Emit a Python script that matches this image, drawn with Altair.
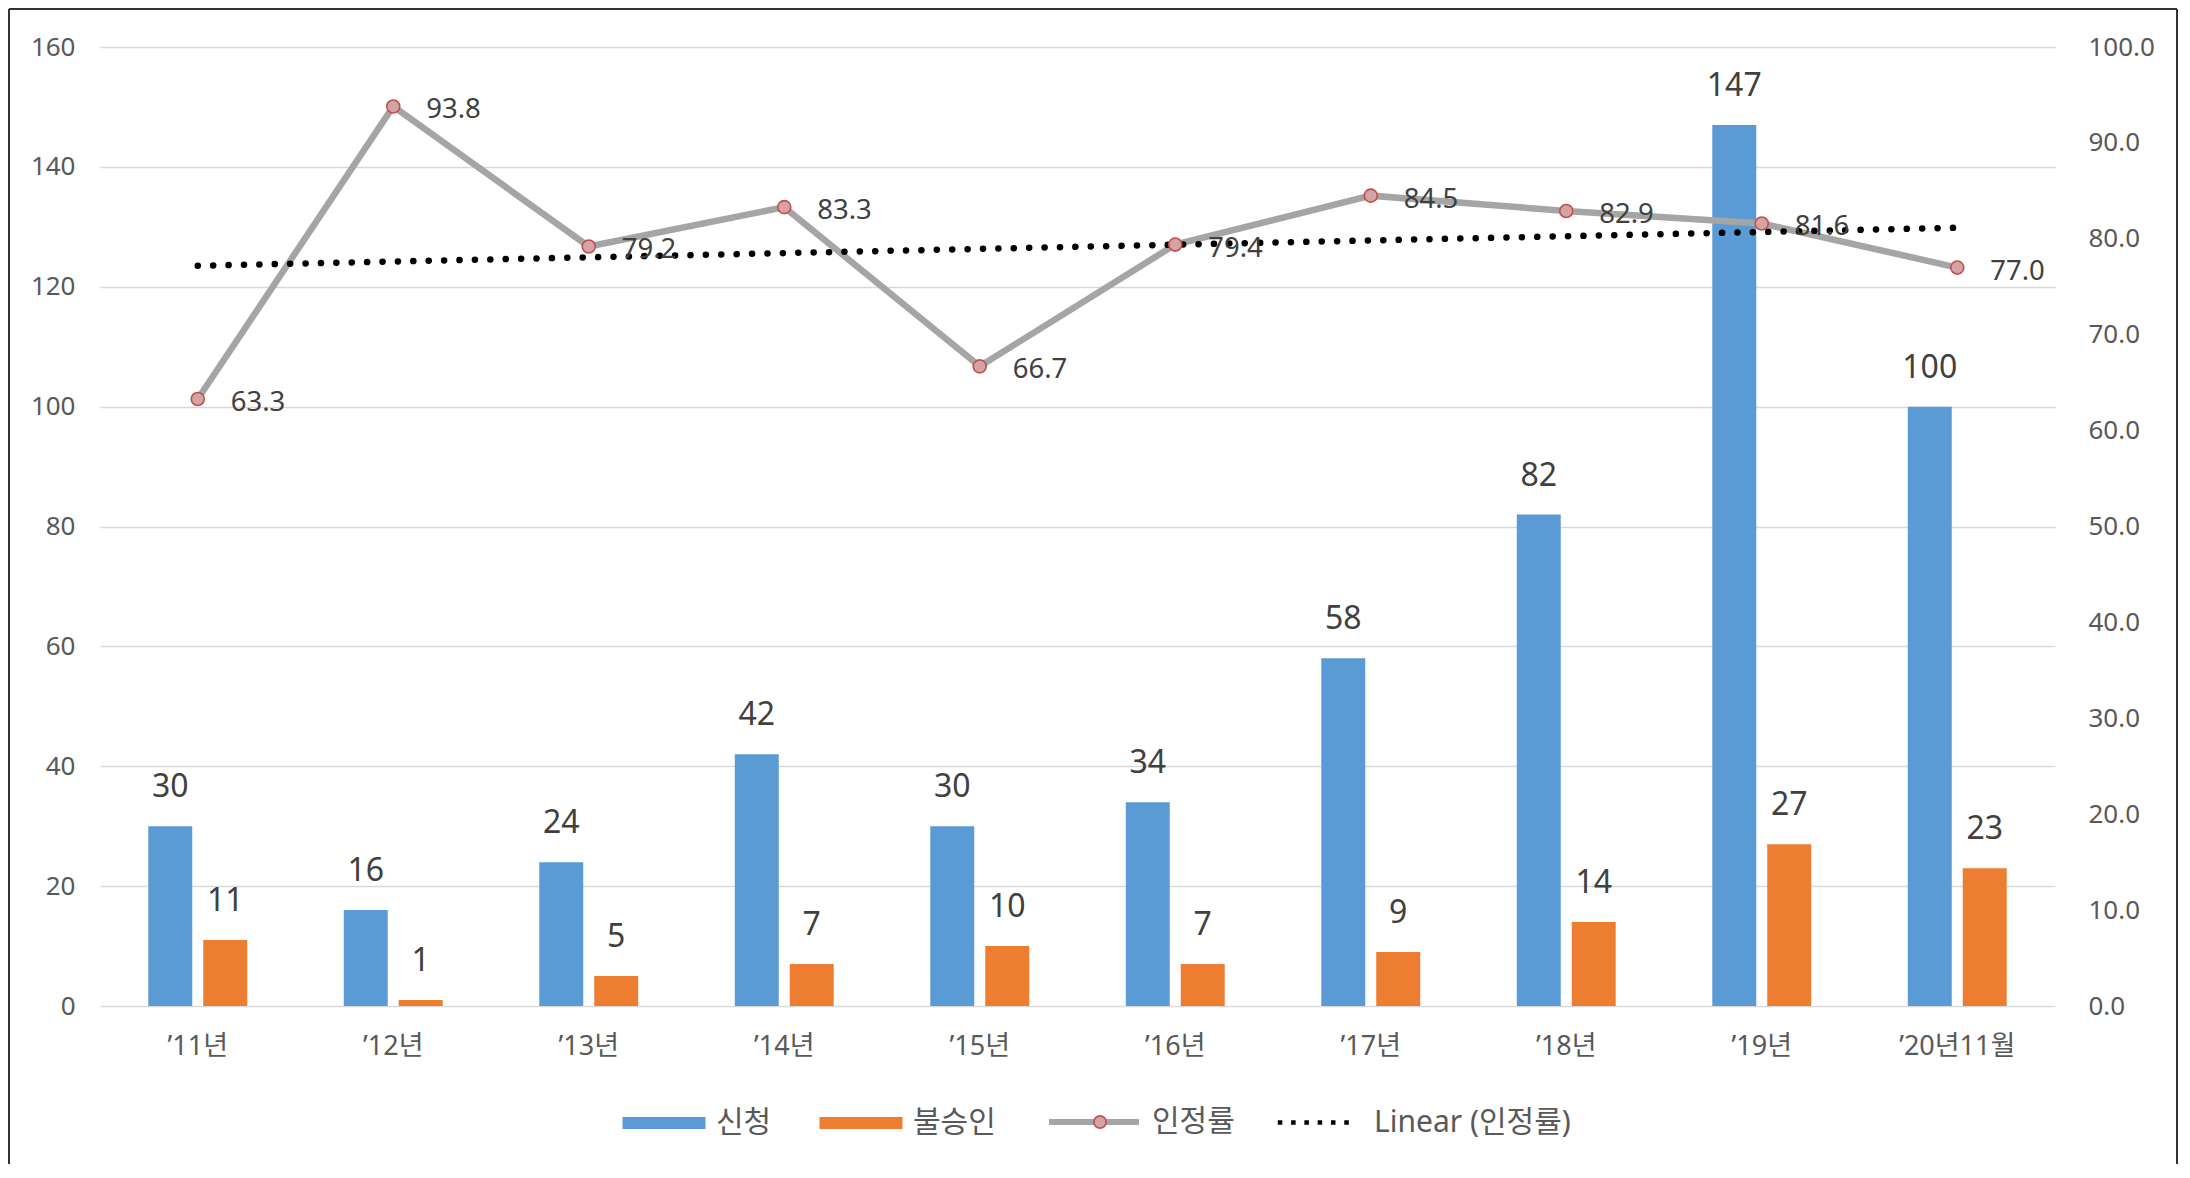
import altair as alt
import pandas as pd

# ---- data ----
categories = ["’11년", "’12년", "’13년", "’14년", "’15년", "’16년", "’17년", "’18년", "’19년", "’20년11월"]
apply_counts = [30, 16, 24, 42, 30, 34, 58, 82, 147, 100]      # 신청
reject_counts = [11, 1, 5, 7, 10, 7, 9, 14, 27, 23]            # 불승인
rates = [63.3, 93.8, 79.2, 83.3, 66.7, 79.4, 84.5, 82.9, 81.6, 77.0]  # 인정률
bar_series = ["신청", "불승인"]
bar_colors = ["#5B9BD5", "#ED7D31"]
rate_name = "인정률"
trend_name = "Linear (인정률)"
left_ticks = list(range(0, 161, 20))
right_ticks = list(range(0, 101, 10))

FONT = "Noto Sans, Noto Sans CJK KR"
AXIS_GREY = "#595959"
LABEL_DARK = "#404040"
LINE_GREY = "#A5A5A5"
PT_FILL = "#D4A3A3"
PT_STROKE = "#C0504D"

bar_rows = []
for c, a, r in zip(categories, apply_counts, reject_counts):
    bar_rows.append({"cat": c, "series": bar_series[0], "count": a})
    bar_rows.append({"cat": c, "series": bar_series[1], "count": r})
bars_df = pd.DataFrame(bar_rows)
rate_df = pd.DataFrame({"cat": categories, "idx": list(range(len(categories))), "rate": rates})
idx_df = rate_df[["idx", "cat"]]

x_enc = alt.X(
    "cat:N",
    sort=categories,
    scale=alt.Scale(domain=categories, paddingInner=0.494, paddingOuter=0.247),
    axis=alt.Axis(title=None, labelFont=FONT, labelFontSize=27, labelColor=AXIS_GREY,
                  labelPadding=27, ticks=False, domain=False, grid=False, labelAngle=0),
)
xoff_enc = alt.XOffset("series:N", sort=bar_series,
                       scale=alt.Scale(domain=bar_series, paddingInner=0.2, paddingOuter=0))
y_left = alt.Y(
    "count:Q",
    scale=alt.Scale(domain=[0, 160], nice=False),
    axis=alt.Axis(values=left_ticks, title=None, labelFont=FONT, labelFontSize=26,
                  labelColor=AXIS_GREY, labelPadding=25, ticks=False, domain=False,
                  grid=True, gridColor="#D9D9D9", gridWidth=1.5),
)
y_right = alt.Y(
    "rate:Q",
    scale=alt.Scale(domain=[0, 100], nice=False),
    axis=alt.Axis(orient="right", values=right_ticks, format=".1f", title=None,
                  labelFont=FONT, labelFontSize=26, labelColor=AXIS_GREY, labelPadding=33,
                  ticks=False, domain=False, grid=False),
)

common_leg = dict(title=None, orient="none", direction="horizontal", padding=0,
                  labelFont=FONT, labelFontSize=30, labelColor=AXIS_GREY, labelLimit=500)

bars = alt.Chart(bars_df).mark_bar().encode(
    x=x_enc,
    xOffset=xoff_enc,
    y=y_left,
    color=alt.Color(
        "series:N", scale=alt.Scale(domain=bar_series, range=bar_colors),
        legend=alt.Legend(legendX=521, legendY=1033, columns=2, columnPadding=46,
                          labelOffset=9, symbolSize=7396,
                          symbolType="M-0.965,-0.14H0.965V0.14H-0.965Z",
                          symbolStrokeWidth=0, symbolOpacity=1, **common_leg),
    ),
)
bar_labels = alt.Chart(bars_df).mark_text(
    baseline="alphabetic", dy=-29, font=FONT, fontSize=32, color=LABEL_DARK
).encode(x=x_enc, xOffset=xoff_enc, y=y_left, text=alt.Text("count:Q"))

left = alt.layer(bars, bar_labels)

rate_line = alt.Chart(rate_df).transform_calculate(s=f"'{rate_name}'").mark_line(
    strokeWidth=6.5
).encode(
    x=x_enc, y=y_right,
    color=alt.Color("s:N", scale=alt.Scale(domain=[rate_name], range=[LINE_GREY]),
                    legend=alt.Legend(legendX=946, legendY=1027, labelOffset=10,
                                      symbolSize=8100, symbolType="M-1,0H1",
                                      symbolStrokeWidth=6, symbolOpacity=1, **common_leg)),
)
rate_pts = alt.Chart(rate_df).transform_calculate(s=f"'{rate_name}'").mark_circle(
    size=170, stroke=PT_STROKE, strokeWidth=1.6, opacity=1
).encode(
    x=x_enc, y=y_right,
    fill=alt.Fill("s:N", scale=alt.Scale(domain=[rate_name], range=[PT_FILL]),
                  legend=alt.Legend(legendX=985, legendY=1060, symbolSize=150,
                                    symbolType="circle", symbolStrokeColor=PT_STROKE,
                                    symbolStrokeWidth=1.6, symbolOpacity=1,
                                    labelExpr="''", zindex=2, **common_leg)),
)
rate_labels = alt.Chart(rate_df).mark_text(
    align="left", baseline="middle", dx=33, dy=4, font=FONT, fontSize=27.5, color=LABEL_DARK
).encode(x=x_enc, y=y_right, text=alt.Text("rate:Q", format=".1f"))
trend = alt.Chart(rate_df).transform_regression(
    "idx", "rate", method="linear"
).transform_lookup(
    lookup="idx", from_=alt.LookupData(data=alt.Data(values=idx_df.to_dict("records")),
                                       key="idx", fields=["cat"])
).transform_calculate(t=f"'{trend_name}'").mark_line(
    strokeWidth=6.5, strokeDash=[0.1, 15.3], strokeCap="round"
).encode(
    x=x_enc, y=y_right,
    color=alt.Color("t:N", scale=alt.Scale(domain=[trend_name], range=["#000000"]),
                    legend=alt.Legend(legendX=1174, legendY=1030, labelOffset=9,
                                      symbolSize=7396, symbolType="M-0.97,0H0.8",
                                      symbolStrokeWidth=4.5, symbolDash=[4.5, 8.8],
                                      symbolOpacity=1, **common_leg)),
)

right = alt.layer(rate_line, trend, rate_pts, rate_labels).resolve_scale(color="independent")

frame_data = alt.Data(values=[{"k": 1}])
frame_left = alt.Chart(frame_data).mark_rule(color="#333333", strokeWidth=2).encode(
    x=alt.value(-91), y=alt.value(-38), y2=alt.value(1118))
frame_top = alt.Chart(frame_data).mark_rule(color="#333333", strokeWidth=2).encode(
    x=alt.value(-91), x2=alt.value(2077), y=alt.value(-38))
frame_right = alt.Chart(frame_data).mark_rule(color="#333333", strokeWidth=2).encode(
    x=alt.value(2077), y=alt.value(-38), y2=alt.value(1118))

chart = alt.layer(left, right, frame_left, frame_top, frame_right).resolve_scale(
    y="independent", color="independent", fill="independent"
).properties(
    width=1955, height=959,
    padding={"left": 92, "top": 39, "right": 125, "bottom": 158},
    autosize=alt.AutoSizeParams(type="none"),
    background="white",
).configure_view(stroke=None)

chart.save("out.html", embed_options={"renderer": "svg", "actions": False})
